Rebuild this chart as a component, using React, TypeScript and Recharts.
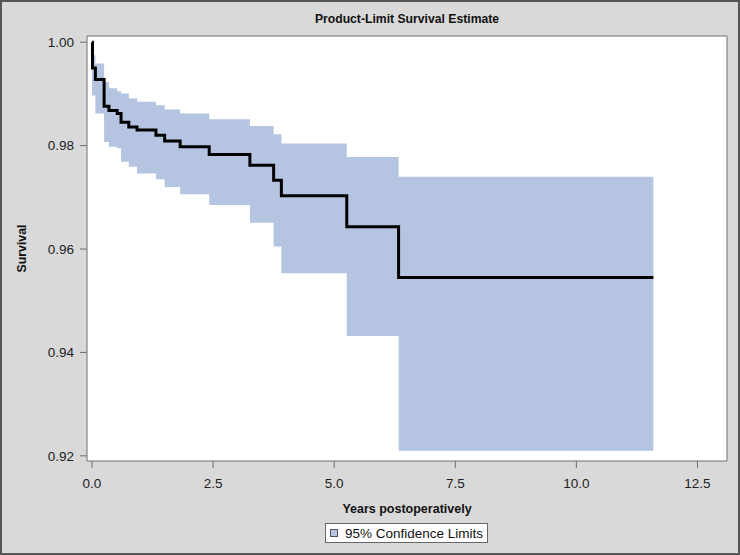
import React from 'react';
import {
  ComposedChart, Area, Line, XAxis, YAxis, CartesianGrid, ReferenceLine,
} from 'recharts';

// Kaplan-Meier step estimate with 95% confidence band
const times = [0, 0.01, 0.07, 0.25, 0.35, 0.52, 0.6, 0.76, 0.93, 1.32, 1.5, 1.82, 2.42, 3.26, 3.75, 3.91, 5.26, 6.33, 11.59];
const survival = [1.0, 0.995, 0.9928, 0.9876, 0.9868, 0.9862, 0.9845, 0.9836, 0.983, 0.982, 0.9809, 0.9798, 0.9783, 0.9762, 0.9733, 0.9703, 0.9643, 0.9545, 0.9545];
const upper = [0.9975, 0.9975, 0.9959, 0.9923, 0.9911, 0.9905, 0.9901, 0.9891, 0.9885, 0.9878, 0.987, 0.9862, 0.9851, 0.9838, 0.9822, 0.9804, 0.9778, 0.974, 0.974];
const lower = [0.9897, 0.9897, 0.9862, 0.9807, 0.9798, 0.9795, 0.9769, 0.9759, 0.9746, 0.9735, 0.972, 0.9706, 0.9685, 0.9651, 0.9605, 0.9553, 0.9432, 0.921, 0.921];

const xTicks = [0, 2.5, 5, 7.5, 10, 12.5];
const yTicks = [0.92, 0.94, 0.96, 0.98, 1.0];

const X_MIN = -0.103;
const X_MAX = 13.11;
const Y_MIN = 0.919;
const Y_MAX = 1.0012;

const BAND = '#b5c4e1';
const FRAME = '#6e6e6e';
const FONT = '"Liberation Sans", Arial, sans-serif';

const data = times.map((t, i) => ({ t, s: survival[i], band: [lower[i], upper[i]] }));

export default function App() {
  return (
    <div style={{ position: 'absolute', left: 0, top: 0, width: 740, height: 555, background: '#d9d9d9', fontFamily: FONT }}>
      <div style={{ position: 'absolute', left: 87, top: 12, width: 640, textAlign: 'center', fontSize: 12.2, fontWeight: 'bold', color: '#111', lineHeight: '15px' }}>
        Product-Limit Survival Estimate
      </div>

      <ComposedChart width={740} height={555} data={data} margin={{ top: 36, right: 13, bottom: 0, left: 0 }}>
        <CartesianGrid horizontal={false} vertical={false} fill="#ffffff" stroke="none" />
        <XAxis
          dataKey="t" type="number" domain={[X_MIN, X_MAX]} ticks={xTicks} allowDataOverflow
          tickFormatter={(v: number) => v.toFixed(1)}
          height={94} tickSize={7} tickMargin={10}
          stroke={FRAME} tick={{ fill: '#222', fontSize: 13.5, fontFamily: FONT }}
          label={{ value: 'Years postoperatively', position: 'insideBottom', offset: 42, fill: '#111', fontSize: 12.5, fontWeight: 'bold', fontFamily: FONT }}
        />
        <YAxis
          type="number" domain={[Y_MIN, Y_MAX]} ticks={yTicks} allowDataOverflow
          tickFormatter={(v: number) => v.toFixed(2)}
          width={87} tickSize={7} tickMargin={6}
          stroke={FRAME} tick={{ fill: '#222', fontSize: 13.5, fontFamily: FONT }}
          label={{ value: 'Survival', angle: -90, position: 'insideLeft', offset: 22, fill: '#111', fontSize: 12.3, fontWeight: 'bold', fontFamily: FONT, style: { textAnchor: 'middle' } }}
        />
        <Area type="stepAfter" dataKey="band" fill={BAND} fillOpacity={1} stroke="none" isAnimationActive={false} />
        <Line type="stepAfter" dataKey="s" stroke="#000" strokeWidth={3} dot={false} isAnimationActive={false} />
        <ReferenceLine y={Y_MAX} stroke={FRAME} strokeWidth={1} />
        <ReferenceLine x={X_MAX} stroke={FRAME} strokeWidth={1} />
      </ComposedChart>

      <div style={{ position: 'absolute', left: 325, top: 523, width: 161, height: 18, border: '1px solid #666', background: '#fff', display: 'flex', alignItems: 'center', fontSize: 13.5, color: '#111' }}>
        <span style={{ display: 'inline-block', width: 6, height: 6, background: BAND, border: '1px solid #555', marginLeft: 4, marginRight: 7 }} />
        <span>95% Confidence Limits</span>
      </div>

      <div style={{ position: 'absolute', inset: 0, border: '2px solid #555', boxSizing: 'border-box', pointerEvents: 'none' }} />
    </div>
  );
}
